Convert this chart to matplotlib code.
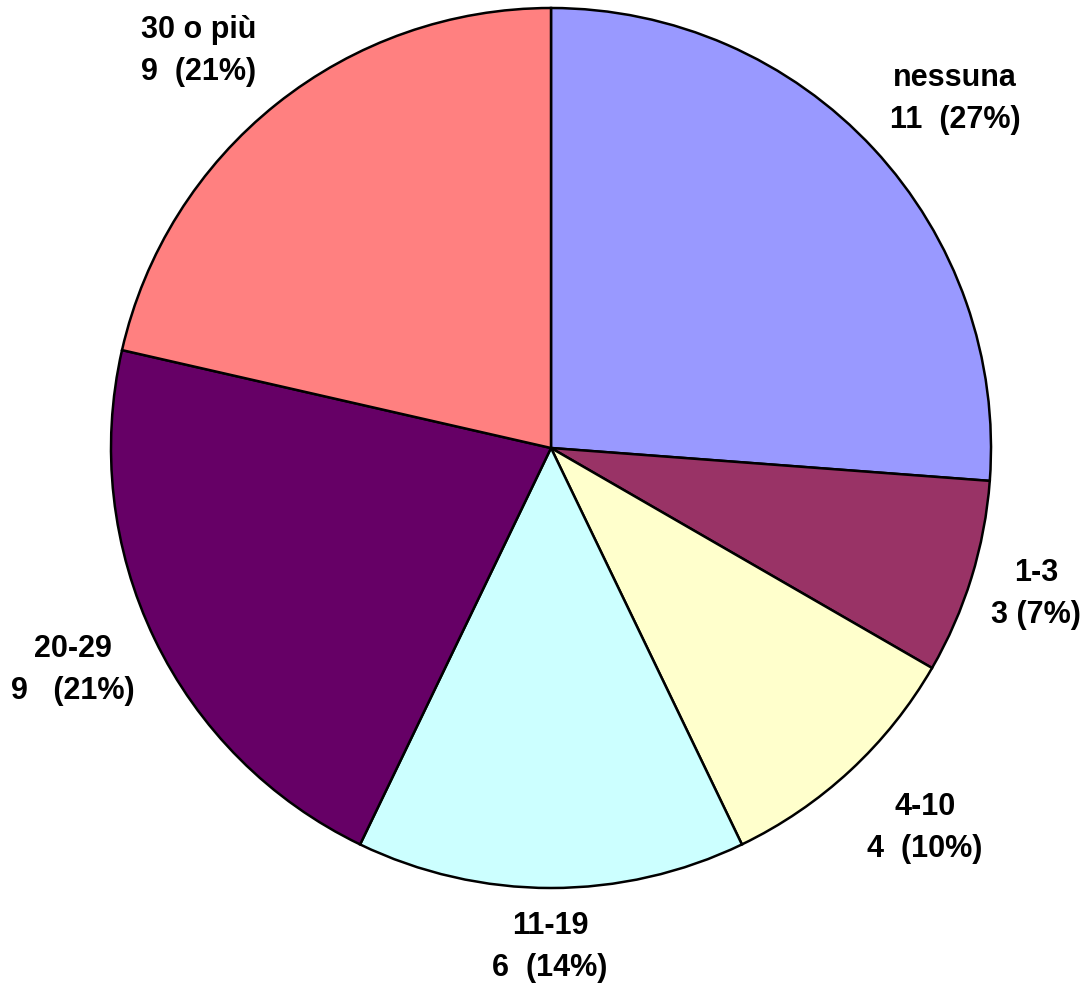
import matplotlib
matplotlib.use("Agg")
import matplotlib.pyplot as plt

categories = ["nessuna", "1-3", "4-10", "11-19", "20-29", "30 o più"]
counts = [11, 3, 4, 6, 9, 9]
pct_labels = ["11  (27%)", "3 (7%)", "4  (10%)", "6  (14%)", "9   (21%)", "9  (21%)"]
colors = ["#9999FF", "#993366", "#FFFFCC", "#CCFFFF", "#660066", "#FF8080"]

# label block centres in pixel coordinates (x from left, y from top)
label_px = [(955, 99), (1036, 594), (925, 828), (550, 947), (73, 670), (199, 51)]

W, H = 1092, 990
fig = plt.figure(figsize=(W / 100, H / 100), dpi=100)
ax = fig.add_axes([0, 0, 1, 1])

cx, cy, r = 551, H - 448, 440
ax.pie(counts, colors=colors, startangle=90, counterclock=False,
       center=(cx, cy), radius=r, frame=True,
       wedgeprops=dict(edgecolor="black", linewidth=1.8))
ax.set_xlim(0, W)
ax.set_ylim(0, H)
ax.set_aspect("equal")
ax.axis("off")

for cat, lab, (px, py) in zip(categories, pct_labels, label_px):
    ax.text(px, H - py, f"{cat}\n{lab}", ha="center", va="center",
            multialignment="center", fontsize=22, fontweight="bold",
            family=["Liberation Sans", "DejaVu Sans"], linespacing=1.5)

fig.savefig("out.png", dpi=100)
